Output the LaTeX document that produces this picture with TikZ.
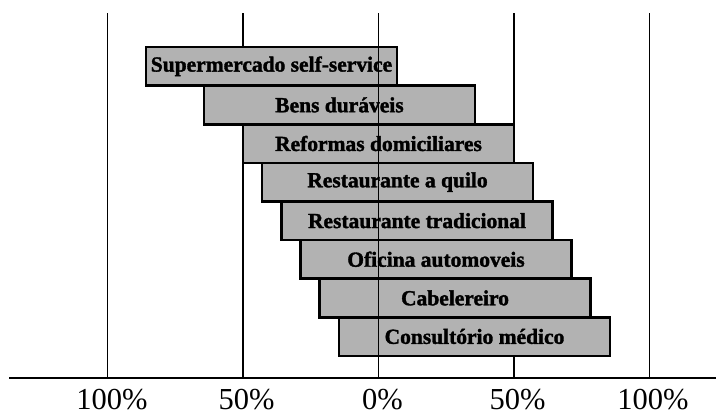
\documentclass[tikz,border=0pt]{standalone}
\usepackage{fontspec}
\setmainfont{Liberation Serif}
\newfontfamily\barfont[FakeBold=1.6]{Liberation Serif Bold}
\begin{document}
\begin{tikzpicture}[x=1pt,y=-1pt,
  gridline/.style={line width=1.3pt,black},
  axisline/.style={line width=1.8pt,black},
  barbox/.style={draw=black,line width=2.6pt,fill=black!30,inner sep=0pt,
    font=\fontsize{21.5}{21.5}\barfont},
  pctlabel/.style={anchor=base,inner sep=0pt,font=\fontsize{30.5}{30.5}\selectfont}]
  \useasboundingbox[fill=white] (0,0) rectangle (716,416);

  % baseline positions of the scale
  \coordinate (Lh) at (107.5,13); \coordinate (Lhb) at (107.5,378);
  \coordinate (Lf) at (243,13);   \coordinate (Lfb) at (243,378);
  \coordinate (Z)  at (378.5,13); \coordinate (Zb)  at (378.5,378);
  \coordinate (Rf) at (514,13);   \coordinate (Rfb) at (514,378);
  \coordinate (Rh) at (649.5,13); \coordinate (Rhb) at (649.5,378);
  \coordinate (A0) at (9,378);    \coordinate (A1)  at (716,378);

  % 50% and 100% guide lines behind the bars
  \draw[gridline] (Lh) -- (Lhb);
  \draw[gridline] (Lf) -- (Lfb);
  \draw[gridline] (Rf) -- (Rfb);
  \draw[gridline] (Rh) -- (Rhb);

  % bars
  \node[barbox,minimum width=251pt,minimum height=38.6pt] (b1) at (271.5,66.3) {Supermercado self-service};
  \node[barbox,minimum width=271pt,minimum height=38.6pt] (b2) at (339.5,104.9) {Bens duráveis};
  \node[barbox,minimum width=271pt,minimum height=38.6pt] (b3) at (378.5,143.5) {Reformas domiciliares};
  \node[barbox,minimum width=271pt,minimum height=38.6pt] (b4) at (397.5,182.1) {Restaurante a quilo};
  \node[barbox,minimum width=271pt,minimum height=38.6pt] (b5) at (417,220.7) {Restaurante tradicional};
  \node[barbox,minimum width=271pt,minimum height=38.6pt] (b6) at (436,259.3) {Oficina automoveis};
  \node[barbox,minimum width=271pt,minimum height=38.6pt] (b7) at (455,297.9) {Cabelereiro};
  \node[barbox,minimum width=271pt,minimum height=38.6pt] (b8) at (474.5,336.5) {Consultório médico};

  % zero line drawn over the bars, then the axis
  \draw[gridline] (Z) -- (Zb);
  \draw[axisline] (A0) -- (A1);

  % scale labels
  \node[pctlabel] (t1) at (112,409.5) {100\%};
  \node[pctlabel] (t2) at (246.5,409.5) {50\%};
  \node[pctlabel] (t3) at (382.5,409.5) {0\%};
  \node[pctlabel] (t4) at (517.5,409.5) {50\%};
  \node[pctlabel] (t5) at (653,409.5) {100\%};
\end{tikzpicture}
\end{document}
